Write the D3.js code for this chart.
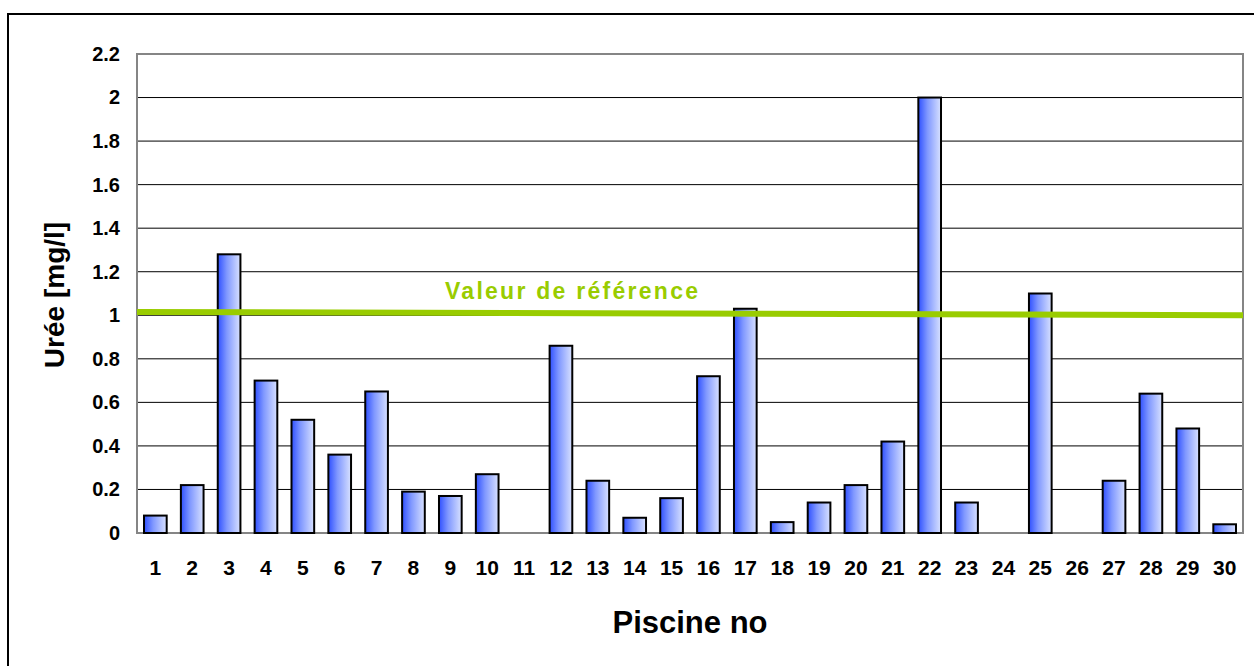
<!DOCTYPE html>
<html>
<head>
<meta charset="utf-8">
<script src="https://cdn.jsdelivr.net/npm/d3@7"></script>
<style>
  body { margin: 0; background: #fff; }
  text { font-family: "Liberation Sans", Arial, sans-serif; font-weight: bold; }
</style>
</head>
<body>
<div id="chart"></div>
<script>
const piscines = d3.range(1, 31).map(String);
const uree = [0.08, 0.22, 1.28, 0.70, 0.52, 0.36, 0.65, 0.19, 0.17, 0.27,
              0, 0.86, 0.24, 0.07, 0.16, 0.72, 1.03, 0.05, 0.14, 0.22,
              0.42, 2.0, 0.14, 0, 1.10, 0, 0.24, 0.64, 0.48, 0.04];
const yTicks = [0, 0.2, 0.4, 0.6, 0.8, 1, 1.2, 1.4, 1.6, 1.8, 2, 2.2];
const refLine = [1.015, 1.0];
const refLabel = "Valeur de référence";

const width = 1254, height = 666;
const margin = { left: 137, right: 11, top: 54, bottom: 133 };

const svg = d3.select("#chart").append("svg")
    .attr("width", width).attr("height", height);

// outer frame
svg.append("rect")
    .attr("x", 8).attr("y", 14)
    .attr("width", width + 10).attr("height", height + 10)
    .attr("fill", "none").attr("stroke", "#000").attr("stroke-width", 2);

const x = d3.scaleBand().domain(piscines)
    .range([margin.left, width - margin.right]).paddingInner(0.385).paddingOuter(0.19);
const y = d3.scaleLinear().domain([0, 2.2])
    .range([height - margin.bottom, margin.top]);

const defs = svg.append("defs");
const grad = defs.append("linearGradient").attr("id", "barGrad")
    .attr("x1", "0%").attr("x2", "100%").attr("y1", "0%").attr("y2", "0%");
grad.append("stop").attr("offset", "0%").attr("stop-color", "#2f50ff");
grad.append("stop").attr("offset", "40%").attr("stop-color", "#8098ff");
grad.append("stop").attr("offset", "100%").attr("stop-color", "#d8e1ff");

// gridlines
svg.append("g")
    .selectAll("line")
    .data(yTicks.filter(d => d > 0 && d < 2.2))
    .join("line")
        .attr("x1", margin.left).attr("x2", width - margin.right)
        .attr("y1", d => y(d)).attr("y2", d => y(d))
        .attr("stroke", "#000").attr("stroke-width", 1);

// plot frame
svg.append("rect")
    .attr("x", margin.left).attr("y", y(2.2))
    .attr("width", width - margin.right - margin.left)
    .attr("height", y(0) - y(2.2))
    .attr("fill", "none").attr("stroke", "#858585").attr("stroke-width", 2);

// bars
svg.append("g")
    .selectAll("rect")
    .data(uree.map((v, i) => ({ item: piscines[i], value: v })).filter(d => d.value > 0))
    .join("rect")
        .attr("x", d => x(d.item))
        .attr("width", x.bandwidth())
        .attr("y", d => y(d.value))
        .attr("height", d => y(0) - y(d.value))
        .attr("fill", "url(#barGrad)")
        .attr("stroke", "#000").attr("stroke-width", 2);

// reference line
svg.append("line")
    .attr("x1", margin.left).attr("x2", width - margin.right)
    .attr("y1", y(refLine[0])).attr("y2", y(refLine[1]))
    .attr("stroke", "#99cc00").attr("stroke-width", 6);

svg.append("text")
    .attr("x", 445).attr("y", 299)
    .attr("textLength", 253)
    .attr("fill", "#99cc00")
    .style("font-size", "23px")
    .text(refLabel);

// y axis
const yAxis = svg.append("g")
    .attr("transform", `translate(${margin.left},0)`)
    .call(d3.axisLeft(y).tickValues(yTicks).tickSize(0).tickPadding(17)
        .tickFormat(d => String(+d.toFixed(1))));
yAxis.select(".domain").remove();
yAxis.selectAll("text")
    .style("font-size", "20px").attr("fill", "#000");

// x axis
const xAxis = svg.append("g")
    .attr("transform", `translate(0,${y(0)})`)
    .call(d3.axisBottom(x).tickSize(0).tickPadding(27));
xAxis.select(".domain").remove();
xAxis.selectAll("text")
    .style("font-size", "21px").attr("fill", "#000");

// titles
svg.append("text")
    .attr("x", 690).attr("y", 633)
    .attr("text-anchor", "middle")
    .style("font-size", "31px")
    .text("Piscine no");

svg.append("text")
    .attr("transform", "translate(64,295) rotate(-90)")
    .attr("text-anchor", "middle")
    .style("font-size", "28px")
    .text("Urée [mg/l]");
</script>
</body>
</html>
